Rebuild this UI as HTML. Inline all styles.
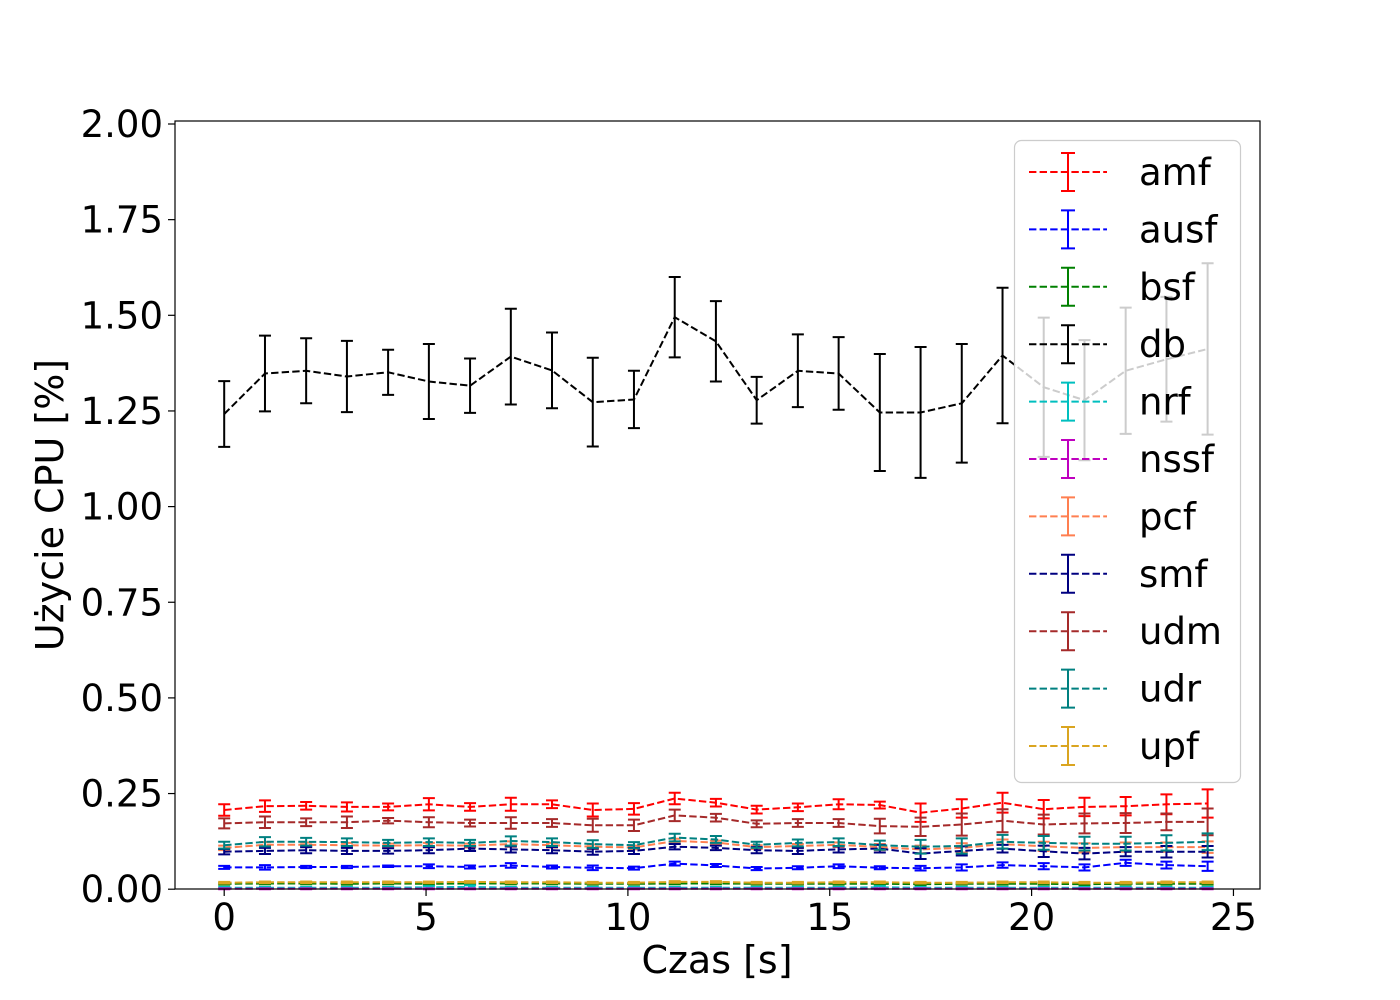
<!DOCTYPE html>
<html><head><meta charset="utf-8"><style>
html,body{margin:0;padding:0;background:#fff;}
svg{display:block;font-family:"DejaVu Sans","Liberation Sans",sans-serif;}
</style></head><body>
<svg id="chart" width="1400" height="1000" viewBox="0 0 1400 1000" xmlns="http://www.w3.org/2000/svg">
<rect width="1400" height="1000" fill="#fff"/>
<g id="plot"></g>
<g id="axes"></g>
<g id="legend"></g>
</svg>
<script>
const times = [0,1.01,2.03,3.04,4.06,5.07,6.09,7.10,8.12,9.13,10.15,11.16,12.18,13.19,14.21,15.22,16.24,17.25,18.27,19.28,20.30,21.31,22.33,23.34,24.36];
const seriesNames = ["amf","ausf","bsf","db","nrf","nssf","pcf","smf","udm","udr","upf"];
const seriesColors = ["#ff0000","#0000ff","#008000","#000000","#00bfbf","#bf00bf","#ff7f50","#000080","#a52a2a","#008080","#daa520"];
const amfVals = [0.207,0.217,0.218,0.215,0.215,0.222,0.215,0.222,0.222,0.207,0.210,0.237,0.226,0.208,0.214,0.222,0.220,0.200,0.211,0.226,0.209,0.215,0.217,0.222,0.224];
const amfErr = [0.015,0.015,0.010,0.012,0.009,0.016,0.010,0.017,0.010,0.017,0.015,0.015,0.010,0.010,0.010,0.013,0.009,0.024,0.024,0.026,0.024,0.024,0.024,0.026,0.037];
const ausfVals = [0.057,0.057,0.058,0.058,0.060,0.060,0.058,0.062,0.058,0.056,0.055,0.067,0.062,0.054,0.056,0.060,0.056,0.055,0.057,0.063,0.060,0.057,0.069,0.063,0.060];
const ausfErr = [0.004,0.006,0.003,0.003,0.002,0.005,0.004,0.006,0.004,0.006,0.004,0.005,0.004,0.004,0.004,0.005,0.004,0.006,0.008,0.007,0.008,0.008,0.008,0.009,0.012];
const bsfVals = [0.014,0.015,0.015,0.014,0.015,0.014,0.015,0.015,0.015,0.014,0.014,0.015,0.015,0.014,0.014,0.014,0.014,0.013,0.014,0.014,0.014,0.013,0.014,0.014,0.014];
const bsfErr = [0.002,0.002,0.002,0.002,0.002,0.002,0.002,0.002,0.002,0.002,0.002,0.002,0.002,0.002,0.002,0.002,0.002,0.002,0.002,0.002,0.002,0.002,0.002,0.002,0.002];
const dbVals = [1.242,1.348,1.355,1.340,1.351,1.327,1.316,1.392,1.356,1.273,1.280,1.495,1.432,1.278,1.355,1.348,1.246,1.246,1.270,1.395,1.312,1.278,1.355,1.385,1.412];
const dbErr = [0.086,0.099,0.085,0.093,0.059,0.098,0.071,0.125,0.099,0.116,0.075,0.105,0.105,0.061,0.095,0.095,0.153,0.171,0.155,0.177,0.182,0.157,0.165,0.163,0.224];
const nrfVals = [0.004,0.004,0.004,0.004,0.004,0.005,0.006,0.004,0.004,0.004,0.004,0.004,0.004,0.004,0.004,0.004,0.005,0.004,0.004,0.004,0.004,0.004,0.004,0.004,0.004];
const nrfErr = [0.002,0.002,0.002,0.002,0.002,0.003,0.004,0.002,0.002,0.002,0.002,0.002,0.002,0.002,0.002,0.002,0.003,0.002,0.002,0.002,0.002,0.002,0.002,0.002,0.002];
const nssfVals = [0.001,0.001,0.001,0.001,0.001,0.001,0.001,0.001,0.001,0.001,0.001,0.001,0.001,0.001,0.001,0.001,0.001,0.001,0.001,0.001,0.001,0.001,0.001,0.001,0.001];
const nssfErr = [0.001,0.001,0.001,0.001,0.001,0.001,0.001,0.001,0.001,0.001,0.001,0.001,0.001,0.001,0.001,0.001,0.001,0.001,0.001,0.001,0.001,0.001,0.001,0.001,0.001];
const pcfVals = [0.108,0.116,0.116,0.115,0.114,0.115,0.114,0.118,0.115,0.111,0.109,0.126,0.122,0.110,0.113,0.116,0.110,0.104,0.108,0.118,0.112,0.108,0.110,0.110,0.110];
const pcfErr = [0.006,0.007,0.006,0.006,0.005,0.006,0.005,0.007,0.006,0.006,0.005,0.006,0.005,0.005,0.005,0.006,0.008,0.010,0.012,0.012,0.012,0.012,0.012,0.012,0.015];
const smfVals = [0.098,0.100,0.102,0.100,0.100,0.102,0.106,0.104,0.102,0.098,0.100,0.111,0.108,0.102,0.100,0.104,0.106,0.093,0.100,0.106,0.099,0.093,0.098,0.098,0.098];
const smfErr = [0.007,0.008,0.008,0.008,0.007,0.008,0.006,0.008,0.008,0.008,0.008,0.007,0.006,0.008,0.008,0.008,0.010,0.014,0.012,0.010,0.015,0.015,0.012,0.015,0.015];
const udmVals = [0.172,0.175,0.175,0.175,0.179,0.175,0.173,0.173,0.173,0.167,0.167,0.193,0.187,0.171,0.173,0.173,0.165,0.163,0.169,0.179,0.169,0.172,0.173,0.176,0.176];
const udmErr = [0.013,0.015,0.010,0.015,0.007,0.013,0.009,0.015,0.010,0.017,0.015,0.015,0.010,0.009,0.010,0.010,0.019,0.024,0.029,0.030,0.026,0.026,0.026,0.022,0.035];
const udrVals = [0.115,0.124,0.124,0.123,0.121,0.123,0.121,0.126,0.123,0.118,0.115,0.135,0.130,0.116,0.121,0.123,0.115,0.111,0.113,0.124,0.121,0.119,0.119,0.121,0.124];
const udrErr = [0.009,0.012,0.010,0.010,0.008,0.010,0.008,0.012,0.010,0.010,0.008,0.010,0.009,0.008,0.009,0.010,0.012,0.018,0.020,0.018,0.018,0.018,0.018,0.020,0.022];
const upfVals = [0.017,0.018,0.018,0.018,0.018,0.018,0.019,0.018,0.018,0.017,0.017,0.019,0.019,0.017,0.017,0.018,0.018,0.017,0.017,0.018,0.018,0.017,0.017,0.018,0.018];
const upfErr = [0.002,0.002,0.002,0.002,0.002,0.002,0.002,0.002,0.002,0.002,0.002,0.002,0.002,0.002,0.002,0.002,0.002,0.002,0.002,0.002,0.002,0.002,0.002,0.002,0.002];
const xTicks = [0,5,10,15,20,25];
const xTickLabels = ["0","5","10","15","20","25"];
const yTicks = [0,0.25,0.5,0.75,1.0,1.25,1.5,1.75,2.0];
const yTickLabels = ["0.00","0.25","0.50","0.75","1.00","1.25","1.50","1.75","2.00"];

const allVals = [amfVals,ausfVals,bsfVals,dbVals,nrfVals,nssfVals,pcfVals,smfVals,udmVals,udrVals,upfVals];
const allErr = [amfErr,ausfErr,bsfErr,dbErr,nrfErr,nssfErr,pcfErr,smfErr,udmErr,udrErr,upfErr];

const NS="http://www.w3.org/2000/svg";
const L=175,R=1260,T=121,B=889;
function xs(t){return 224.2+t*40.37;}
function ys(v){return 889.2-v*382.6;}
function mk(tag,attrs,parent){const e=document.createElementNS(NS,tag);for(const k in attrs)e.setAttribute(k,attrs[k]);parent.appendChild(e);return e;}

const plot=document.getElementById('plot');
allVals.forEach((vals,si)=>{
  const g=mk('g',{},plot);
  
  
  const col=seriesColors[si];
  const pts=vals.map((v,i)=>xs(times[i]).toFixed(1)+','+ys(v).toFixed(1)).join(' ');
  const line=mk('polyline',{points:pts,fill:'none',stroke:col,'stroke-width':2,'stroke-dasharray':'7.4,3.2'},g);
  
  
  vals.forEach((v,i)=>{
    const x=xs(times[i]),e=allErr[si][i];
    const y1=ys(v+e),y2=ys(v-e);
    const eb=mk('path',{d:`M${x},${y1}V${y2}M${x-6},${y1}H${x+6}M${x-6},${y2}H${x+6}`,stroke:col,'stroke-width':2,fill:'none'},g);
    
    
  });
});

const axes=document.getElementById('axes');
const frame=mk('rect',{x:L,y:T,width:R-L,height:B-T,fill:'none',stroke:'#000','stroke-width':1.2},axes);


xTicks.forEach((t,i)=>{
  const x=xs(t);
  mk('line',{x1:x,x2:x,y1:B,y2:B+7,stroke:'#000','stroke-width':1.2},axes);
  const tx=mk('text',{x:x,y:930,'text-anchor':'middle','font-size':37,fill:'#000'},axes);
  tx.textContent=xTickLabels[i];
  
  
});
yTicks.forEach((v,i)=>{
  const y=ys(v);
  mk('line',{x1:L-7,x2:L,y1:y,y2:y,stroke:'#000','stroke-width':1.2},axes);
  const tx=mk('text',{x:163,y:y+13,'text-anchor':'end','font-size':37,fill:'#000'},axes);
  tx.textContent=yTickLabels[i];
  
  
});
const xt=mk('text',{x:717,y:973,'text-anchor':'middle','font-size':38,fill:'#000'},axes);
xt.textContent='Czas [s]';


const yt=mk('text',{x:0,y:0,'text-anchor':'middle','font-size':38,fill:'#000',transform:'translate(63,505) rotate(-90)'},axes);
yt.textContent='Użycie CPU [%]';



const lg=document.getElementById('legend');
const box=mk('rect',{x:1014.5,y:140.5,width:226,height:642,rx:7,fill:'#fff','fill-opacity':0.8,stroke:'#cccccc','stroke-width':1.2},lg);


seriesNames.forEach((n,i)=>{
  const cy=172+i*57.4, col=seriesColors[i];
  const g=mk('g',{},lg);
  
  
  mk('line',{x1:1029,x2:1107,y1:cy,y2:cy,stroke:col,'stroke-width':2,'stroke-dasharray':'7.4,3.2'},g);
  mk('path',{d:`M1068,${cy-19}V${cy+19}M1061,${cy-19}H1075M1061,${cy+19}H1075`,stroke:col,'stroke-width':2,fill:'none'},g);
  const t=mk('text',{x:1139,y:cy+13,'font-size':37,fill:'#000'},g);
  t.textContent=n;
});
</script>
</body></html>
